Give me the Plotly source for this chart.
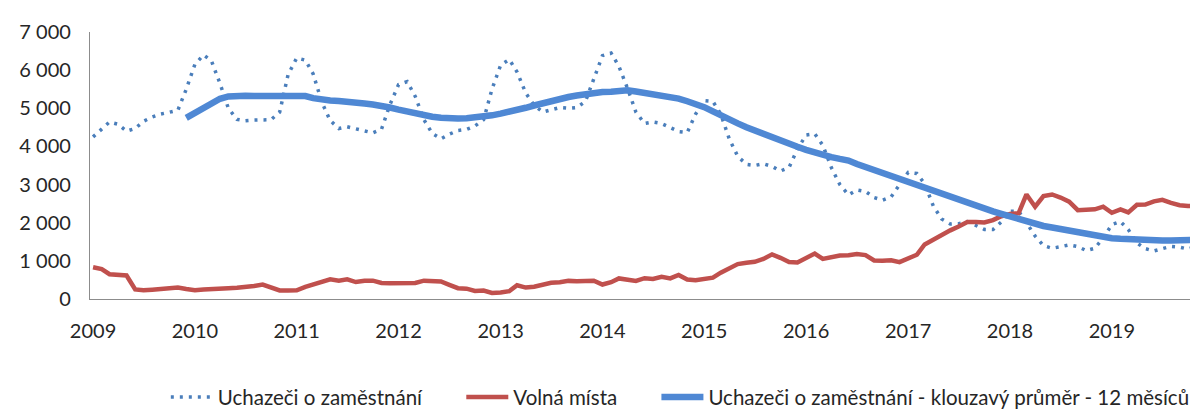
import pandas as pd
import plotly.graph_objects as go

# Monthly data, Jan 2009 - Dec 2019
uchazeci = [
    4250, 4470, 4640, 4580, 4400, 4470, 4660, 4770, 4850, 4895, 4950, 5500,   # 2009
    6150, 6400, 6250, 5650, 5000, 4710, 4670, 4690, 4700, 4700, 4900, 5880,   # 2010
    6320, 6260, 5900, 5160, 4680, 4470, 4515, 4460, 4400, 4355, 4450, 5090,   # 2011
    5620, 5700, 5310, 4700, 4340, 4200, 4320, 4417, 4445, 4535, 4700, 5500,   # 2012
    6130, 6280, 5950, 5400, 5080, 4900, 4960, 5020, 5000, 5020, 5180, 5750,   # 2013
    6380, 6450, 6100, 5520, 4900, 4600, 4640, 4600, 4490, 4390, 4367, 4850,   # 2014
    5200, 5180, 4850, 4190, 3740, 3530, 3500, 3545, 3475, 3355, 3450, 3930,   # 2015
    4300, 4330, 4030, 3440, 3000, 2730, 2860, 2820, 2660, 2590, 2680, 3010,   # 2016
    3320, 3290, 3020, 2440, 2100, 1967, 1975, 2030, 1920, 1825, 1820, 2020,   # 2017
    2300, 2300, 2000, 1650, 1400, 1330, 1370, 1420, 1375, 1270, 1330, 1600,   # 2018
    1950, 2030, 1820, 1470, 1320, 1260, 1320, 1380, 1360, 1310, 1380, 1640,   # 2019
]

volna_mista = [
    833, 783, 650, 620, 617, 250, 230, 245, 270, 295, 300, 260,               # 2009
    230, 250, 270, 277, 285, 295, 305, 340, 380, 290, 225, 225,               # 2010
    230, 320, 380, 440, 515, 480, 515, 445, 480, 480, 420, 410,               # 2011
    415, 440, 420, 480, 480, 458, 370, 283, 270, 210, 220, 160,               # 2012
    170, 205, 360, 300, 320, 380, 425, 440, 475, 465, 460, 480,               # 2013
    380, 440, 540, 500, 475, 545, 525, 580, 540, 630, 510, 490,               # 2014
    515, 560, 690, 820, 915, 950, 975, 1050, 1170, 1080, 970, 958,            # 2015
    1070, 1190, 1050, 1110, 1142, 1150, 1180, 1150, 1010, 1000, 1017, 965,    # 2016
    1055, 1160, 1430, 1560, 1700, 1800, 1900, 2017, 2017, 2005, 2070, 2170,   # 2017
    2230, 2250, 2740, 2420, 2700, 2740, 2660, 2550, 2330, 2350, 2350, 2420,   # 2018
    2260, 2350, 2270, 2470, 2475, 2560, 2600, 2520, 2460, 2440, 2420, 2470,   # 2019
]

klouzavy_prumer = [
    None, None, None, None, None, None, None, None, None, None, None, 4750,   # 2009
    4883, 5015, 5150, 5250, 5310, 5333, 5330, 5325, 5320, 5315, 5310, 5320,   # 2010
    5330, 5320, 5265, 5220, 5205, 5190, 5180, 5150, 5125, 5100, 5073, 5020,   # 2011
    4966, 4910, 4860, 4812, 4780, 4750, 4726, 4730, 4738, 4755, 4785, 4815,   # 2012
    4860, 4900, 4953, 5013, 5073, 5137, 5200, 5250, 5295, 5335, 5375, 5415,   # 2013
    5425, 5433, 5450, 5475, 5440, 5405, 5370, 5330, 5295, 5255, 5185, 5115,   # 2014
    5030, 4920, 4810, 4705, 4605, 4505, 4415, 4335, 4250, 4165, 4075, 3990,   # 2015
    3911, 3833, 3777, 3720, 3673, 3630, 3540, 3460, 3380, 3300, 3230, 3155,   # 2016
    3077, 2997, 2919, 2850, 2760, 2672, 2590, 2500, 2423, 2360, 2296, 2232,   # 2017
    2165, 2090, 2015, 1950, 1915, 1875, 1835, 1780, 1745, 1700, 1660, 1620,   # 2018
    1595, 1580, 1565, 1550, 1540, 1538, 1535, 1533, 1535, 1540, 1545, 1560,   # 2019
]

months = pd.date_range("2009-01-01", periods=len(uchazeci), freq="MS")

series_names = [
    "Uchazeči o zaměstnání",
    "Volná místa",
    "Uchazeči o zaměstnání - klouzavý průměr - 12 měsíců",
]

FONT = "Lato, 'Open Sans', sans-serif"
TEXT_COLOR = "#262626"
AXIS_FONT = dict(family=FONT, size=20, color=TEXT_COLOR)
LEGEND_FONT = dict(family=FONT, size=20.5, color=TEXT_COLOR)

fig = go.Figure()
fig.add_trace(go.Scatter(
    x=months, y=uchazeci, mode="lines", name=series_names[0],
    line=dict(color="#4A7EBB", width=3.5, dash="3px,6px"),
    legend="legend",
))
fig.add_trace(go.Scatter(
    x=months, y=volna_mista, mode="lines", name=series_names[1],
    line=dict(color="#C0504D", width=4.5),
    legend="legend2",
))
fig.add_trace(go.Scatter(
    x=months, y=klouzavy_prumer, mode="lines", name=series_names[2],
    line=dict(color="#4F88D4", width=6.5),
    legend="legend3",
))


def legend_box(xpos):
    return dict(
        orientation="h",
        x=xpos, xanchor="left",
        y=-0.368, yanchor="middle",
        font=LEGEND_FONT,
        itemwidth=42,
        bgcolor="rgba(0,0,0,0)",
    )


fig.update_layout(
    width=1198, height=410,
    margin=dict(l=82, r=1, t=24, b=106),
    paper_bgcolor="white", plot_bgcolor="white",
    separators=", ",
    font=dict(family=FONT, size=20, color=TEXT_COLOR),
    showlegend=True,
    legend=legend_box(0.068),
    legend2=legend_box(0.333),
    legend3=legend_box(0.508),
)

fig.update_xaxes(
    type="date",
    range=["2008-12-21", "2019-12-01"],
    tick0="2009-01-01", dtick="M12", tickformat="%Y",
    showgrid=False, zeroline=False,
    showline=True, linecolor="#8C8C8C", linewidth=1.2,
    ticks="", ticklabelstandoff=14,
    tickfont=AXIS_FONT,
)
fig.update_yaxes(
    range=[0, 7000], dtick=1000, tickformat=",d",
    showgrid=False, zeroline=False,
    showline=True, linecolor="#8C8C8C", linewidth=1.2,
    ticks="", ticklabelstandoff=14,
    tickfont=AXIS_FONT,
)

fig.write_html("out.html")
